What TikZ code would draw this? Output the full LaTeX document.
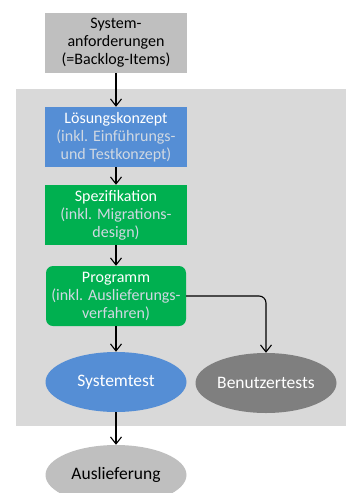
\documentclass[tikz,border=0pt]{standalone}
\usepackage{fontspec}
\setmainfont{Carlito}
\usetikzlibrary{shapes.geometric,arrows.meta}

\definecolor{boxgray}{HTML}{BFBFBF}
\definecolor{areagray}{HTML}{D9D9D9}
\definecolor{conceptblue}{HTML}{558ED5}
\definecolor{specgreen}{HTML}{00B050}
\definecolor{testgray}{HTML}{7F7F7F}
\definecolor{subtext}{HTML}{D0D8E2}

\begin{document}
\begin{tikzpicture}[x=1pt,y=-1pt]
\tikzset{box/.style={rectangle,minimum width=142pt,minimum height=60pt,inner sep=0pt,align=center,text=white,font=\fontsize{16}{18}\selectfont},
  oval/.style={ellipse,minimum width=141pt,minimum height=60pt,inner sep=0pt,text=white,font=\fontsize{17.5}{18}\selectfont},
  arr/.style={-{Straight Barb[length=7pt,width=11pt]},line width=1.1pt}}

\useasboundingbox (0,0) rectangle (346,493);
\clip (0,0) rectangle (346,493);
\fill[areagray] (16,89) rectangle (346,426);

\node[box,fill=boxgray,text=black] (req) at (116,43) {System-\\anforderungen\\(=Backlog-Items)};
\node[box,fill=conceptblue] (konzept) at (116,137) {Lösungskonzept\\\textcolor{subtext}{(inkl. Einführungs-}\\\textcolor{subtext}{und Testkonzept)}};
\node[box,fill=specgreen] (spez) at (116,215) {Spezifikation\\\textcolor{subtext}{(inkl. Migrations-}\\\textcolor{subtext}{design)}};
\node[box,fill=specgreen,rounded corners=7pt,minimum width=140pt] (prog) at (116,296) {Programm\\\textcolor{subtext}{(inkl. Auslieferungs-}\\\textcolor{subtext}{verfahren)}};
\node[oval,fill=conceptblue] (systest) at (116,382) {Systemtest};
\node[oval,fill=testgray] (benutzer) at (266,383) {Benutzertests};
\node[oval,fill=boxgray,text=black] (ausl) at (116,475) {Auslieferung};

\draw[arr] (req) -- (konzept);
\draw[arr] (konzept) -- (spez);
\draw[arr] (spez) -- (prog);
\draw[arr] (prog) -- (systest);
\draw[arr,rounded corners=7pt] (prog.east) -| (benutzer.north);
\draw[arr] (systest) -- (ausl);
\end{tikzpicture}
\end{document}
